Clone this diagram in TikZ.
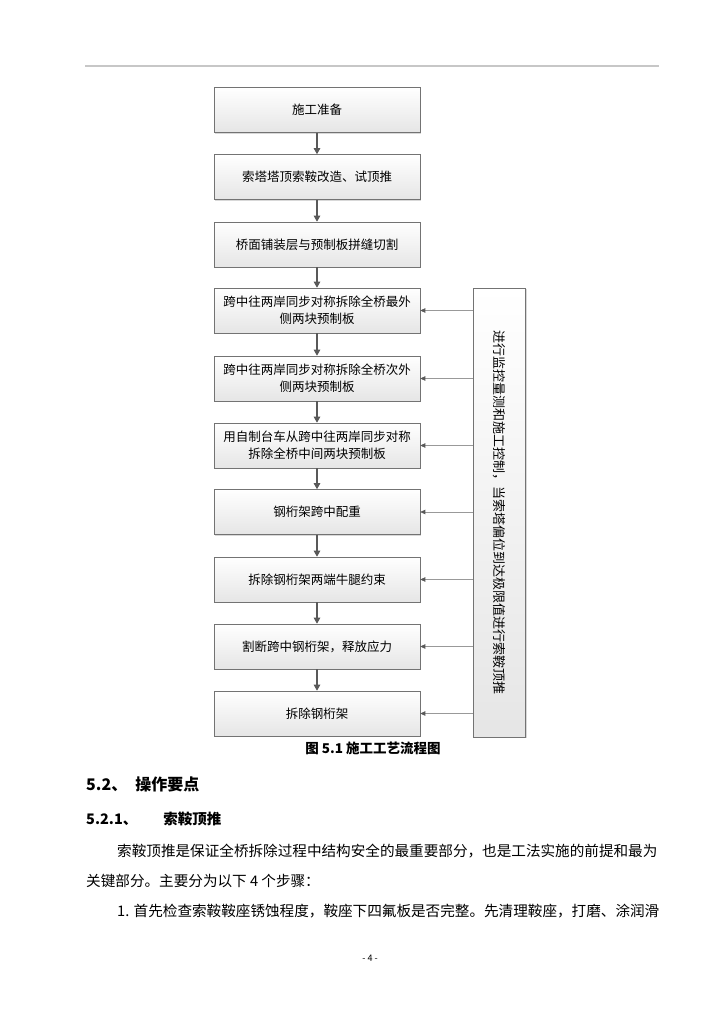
\documentclass[tikz,border=0pt]{standalone}
\usepackage{fontspec}
\setmainfont{Noto Sans CJK SC}
\usetikzlibrary{arrows.meta,shadows}

\begin{document}
\begin{tikzpicture}[x=1pt,y=-1pt,
  stepbox/.style={draw=black!55, line width=0.6pt, top color=white, bottom color=black!10,
    drop shadow={shadow xshift=1.3pt,shadow yshift=-1.3pt,opacity=0.3},
    minimum width=206pt, minimum height=45pt, align=center, inner sep=2pt,
    font=\fontsize{12.5}{17}\selectfont},
  flow/.style={draw=black!65, line width=1.1pt, -{Triangle[width=6.5pt,length=6pt]}},
  feed/.style={draw=black!40, line width=0.7pt, -{Triangle[width=4.5pt,length=5pt,color=black!65]}},
  bodytext/.style={anchor=base west, inner sep=0pt, font=\fontsize{14.6}{14.6}\selectfont},
]
\fill[white] (0,0) rectangle (724,1024);
\useasboundingbox (0,0) rectangle (724,1024);

% page header rule
\coordinate (hl) at (85,66);
\coordinate (hr) at (659,66);
\draw[black!22, line width=1.8pt] (hl) -- (hr);

% main steps
\node[stepbox] (s1) at (317,110) {施工准备};
\node[stepbox] (s2) at (317,177) {索塔塔顶索鞍改造、试顶推};
\node[stepbox] (s3) at (317,244.5) {桥面铺装层与预制板拼缝切割};
\node[stepbox] (s4) at (317,310.5) {跨中往两岸同步对称拆除全桥最外\\侧两块预制板};
\node[stepbox] (s5) at (317,378.5) {跨中往两岸同步对称拆除全桥次外\\侧两块预制板};
\node[stepbox] (s6) at (317,445.5) {用自制台车从跨中往两岸同步对称\\拆除全桥中间两块预制板};
\node[stepbox] (s7) at (317,512) {钢桁架跨中配重};
\node[stepbox] (s8) at (317,579.5) {拆除钢桁架两端牛腿约束};
\node[stepbox] (s9) at (317,646.5) {割断跨中钢桁架，释放应力};
\node[stepbox] (s10) at (317,713.5) {拆除钢桁架};

\draw[flow] (s1) -- (s2);
\draw[flow] (s2) -- (s3);
\draw[flow] (s3) -- (s4);
\draw[flow] (s4) -- (s5);
\draw[flow] (s5) -- (s6);
\draw[flow] (s6) -- (s7);
\draw[flow] (s7) -- (s8);
\draw[flow] (s8) -- (s9);
\draw[flow] (s9) -- (s10);

% monitoring box on the right
\node[stepbox, minimum width=52pt, minimum height=449pt] (ctrl) at (499.5,512.5) {};
\node[rotate=-90, font=\fontsize{13}{13}\selectfont] (ctrltext) at (ctrl.center)
  {进行监控量测和施工控制，当索塔偏位到达极限值进行索鞍顶推};

\draw[feed] (ctrl.west |- s4) -- (s4.east);
\draw[feed] (ctrl.west |- s5) -- (s5.east);
\draw[feed] (ctrl.west |- s6) -- (s6.east);
\draw[feed] (ctrl.west |- s7) -- (s7.east);
\draw[feed] (ctrl.west |- s8) -- (s8.east);
\draw[feed] (ctrl.west |- s9) -- (s9.east);
\draw[feed] (ctrl.west |- s10) -- (s10.east);

% caption and text below
\node[font=\bfseries\fontsize{13.5}{13.5}\selectfont] (cap) at (373,748) {图 5.1 施工工艺流程图};

\node[anchor=base west, inner sep=0pt, font=\bfseries\fontsize{16}{16}\selectfont] (h1) at (86,790) {5.2、\hspace{8pt}操作要点};
\node[anchor=base west, inner sep=0pt, font=\bfseries\fontsize{14.5}{14.5}\selectfont] (h2) at (86,824) {5.2.1、\hspace{26pt}索鞍顶推};

\node[bodytext] (p1) at (117,856) {索鞍顶推是保证全桥拆除过程中结构安全的最重要部分，也是工法实施的前提和最为};
\node[bodytext] (p2) at (86,886) {关键部分。主要分为以下 4 个步骤：};
\node[bodytext] (p3) at (117,916) {1. 首先检查索鞍鞍座锈蚀程度，鞍座下四氟板是否完整。先清理鞍座，打磨、涂润滑};

\node[font=\fontsize{9}{9}\selectfont] (pg) at (370,958) {- 4 -};
\end{tikzpicture}
\end{document}
